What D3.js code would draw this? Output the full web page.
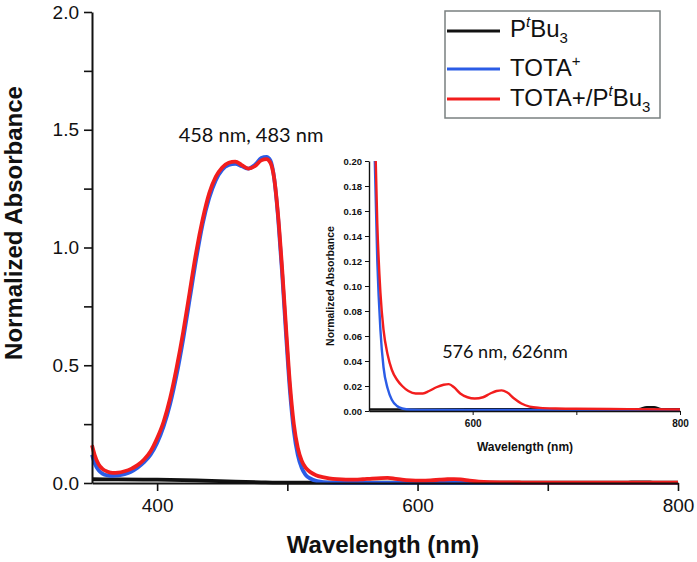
<!DOCTYPE html>
<html>
<head>
<meta charset="utf-8">
<script src="https://cdn.jsdelivr.net/npm/d3@7"></script>
<style>
html,body{margin:0;padding:0;background:#fff;}
svg{display:block;}
</style>
</head>
<body>
<svg id="chart" width="697" height="562"></svg>
<script>
// ---------------- DATA ----------------
const wlRed = [350,352,355,358,362,366,370,375,380,385,390,395,400,405,410,415,420,425,430,435,440,445,450,455,460,465,470,475,480,484,487,490,493,496,499,502,505,508,511,514,518,522,527,532,538,545,552,558,565,572,577,582,588,595,602,610,617,623,628,633,640,647,655,665,680,700,750,800];
const absRed = [0.16,0.12,0.08,0.06,0.048,0.043,0.044,0.05,0.06,0.076,0.10,0.135,0.19,0.26,0.36,0.49,0.64,0.81,0.98,1.12,1.23,1.30,1.34,1.36,1.365,1.35,1.335,1.345,1.37,1.375,1.36,1.29,1.13,0.91,0.66,0.42,0.25,0.15,0.095,0.065,0.045,0.033,0.025,0.020,0.016,0.014,0.014,0.016,0.019,0.021,0.0215,0.019,0.014,0.011,0.010,0.011,0.014,0.016,0.0165,0.015,0.010,0.006,0.0035,0.0025,0.002,0.0018,0.0015,0.0012];

const wlBlue = [350,352,355,358,362,366,370,375,380,385,390,395,400,405,410,415,420,425,430,435,440,445,450,455,460,465,470,475,480,484,487,490,493,496,499,502,505,508,511,514,518,522,527,532,540,560,600,700,800];
const absBlue = [0.12,0.085,0.055,0.04,0.032,0.03,0.032,0.038,0.048,0.065,0.088,0.12,0.17,0.24,0.335,0.46,0.61,0.78,0.95,1.10,1.21,1.285,1.33,1.35,1.355,1.345,1.335,1.35,1.38,1.385,1.37,1.29,1.12,0.89,0.63,0.39,0.22,0.12,0.065,0.035,0.018,0.009,0.004,0.002,0.001,0.0008,0.0008,0.0008,0.0008];

const wlBlack = [350,370,400,430,460,480,500,540,600,700,760,768,775,782,800];
const absBlack = [0.016,0.015,0.014,0.011,0.006,0.003,0.0012,0.0012,0.0014,0.0014,0.0015,0.003,0.003,0.0015,0.0014];

const xTicksMain = [400,500,600,700,800];
const xLabelsMain = [400,600,800];
const yTicksMain = [0,0.25,0.5,0.75,1.0,1.25,1.5,1.75,2.0];
const yLabelsMain = [0,0.5,1.0,1.5,2.0];
const xTicksInset = [600,700,800];
const xLabelsInset = [600,800];
const yTicksInset = [0,0.02,0.04,0.06,0.08,0.10,0.12,0.14,0.16,0.18,0.20];

const seriesNames = ["PtBu3","TOTA+","TOTA+/PtBu3"];
const annotationMain = "458 nm, 483 nm";
const annotationInset = "576 nm, 626nm";

// ---------------- DRAW ----------------
const svg = d3.select("#chart");
const colors = {black:"#111111", blue:"#2b5ce6", red:"#f21d1d"};
const series = [
  {wl:wlBlack, v:absBlack, c:colors.black},
  {wl:wlBlue, v:absBlue, c:colors.blue},
  {wl:wlRed, v:absRed, c:colors.red}
];

const x = d3.scaleLinear().domain([350,800]).range([92,678]);
const y = d3.scaleLinear().domain([0,2]).range([483,12]);

const main = svg.append("g");
const mainLine = d3.line().x(d=>x(d[0])).y(d=>y(d[1])).curve(d3.curveMonotoneX);
series.forEach(s=>{
  main.append("path")
    .datum(d3.zip(s.wl,s.v))
    .attr("d",mainLine)
    .attr("fill","none").attr("stroke",s.c)
    .attr("stroke-width",3.8).attr("stroke-linejoin","round");
});

// axes main
const xAxis = d3.axisBottom(x).tickValues(xTicksMain).tickSize(8).tickSizeOuter(0)
  .tickFormat(d=>xLabelsMain.includes(d)?d:"");
const gx = svg.append("g").attr("transform","translate(0,483)").call(xAxis);
gx.selectAll("text").attr("font-family","Liberation Sans, Arial, sans-serif").attr("font-size",19).attr("fill","#111").attr("dy","0.95em");
gx.selectAll("line").attr("stroke","#111").attr("stroke-width",1.6);
gx.select(".domain").attr("stroke","#111").attr("stroke-width",2);

const yAxis = d3.axisLeft(y).tickValues(yTicksMain).tickSize(8).tickSizeOuter(0)
  .tickFormat(d=>yLabelsMain.some(v=>Math.abs(v-d)<1e-9)?d3.format(".1f")(d):"");
const gy = svg.append("g").attr("transform","translate(92,0)").call(yAxis);
gy.selectAll("text").attr("font-family","Liberation Sans, Arial, sans-serif").attr("font-size",19).attr("fill","#111").attr("x",-13);
gy.selectAll("line").attr("stroke","#111").attr("stroke-width",1.6);
gy.select(".domain").attr("stroke","#111").attr("stroke-width",2);

svg.append("text").attr("transform","translate(22,223) rotate(-90)")
  .attr("text-anchor","middle").attr("font-family","Liberation Sans, Arial, sans-serif")
  .attr("font-weight","bold").attr("font-size",24).attr("fill","#111")
  .text("Normalized Absorbance");
svg.append("text").attr("x",383).attr("y",553)
  .attr("text-anchor","middle").attr("font-family","Liberation Sans, Arial, sans-serif")
  .attr("font-weight","bold").attr("font-size",24).attr("fill","#111")
  .text("Wavelength (nm)");

svg.append("text").attr("x",251).attr("y",142).attr("text-anchor","middle")
  .attr("font-family","Lato, sans-serif").attr("font-size",20).attr("fill","#111")
  .text(annotationMain);

// ---------------- INSET ----------------
const xi = d3.scaleLinear().domain([500,800]).range([369,680]);
const yi = d3.scaleLinear().domain([0,0.2]).range([411,161]);
svg.append("clipPath").attr("id","insetClip").append("rect")
  .attr("x",369).attr("y",161).attr("width",311).attr("height",250);
const inset = svg.append("g").attr("clip-path","url(#insetClip)");
const insetLine = d3.line().x(d=>xi(d[0])).y(d=>yi(d[1])).curve(d3.curveMonotoneX);
series.forEach(s=>{
  inset.append("path")
    .datum(d3.zip(s.wl,s.v))
    .attr("d",insetLine)
    .attr("fill","none").attr("stroke",s.c)
    .attr("stroke-width",2.4).attr("stroke-linejoin","round");
});

const xiAxis = d3.axisBottom(xi).tickValues(xTicksInset).tickSize(4).tickSizeOuter(0)
  .tickFormat(d=>xLabelsInset.includes(d)?d:"");
const gxi = svg.append("g").attr("transform","translate(0,411)").call(xiAxis);
gxi.selectAll("text").attr("font-family","Liberation Sans, Arial, sans-serif").attr("font-weight","bold").attr("font-size",10).attr("fill","#111").attr("dy","0.9em");
gxi.selectAll("line").attr("stroke","#111").attr("stroke-width",1);
gxi.select(".domain").attr("stroke","#111").attr("stroke-width",1.4);

const yiAxis = d3.axisLeft(yi).tickValues(yTicksInset).tickSize(4).tickSizeOuter(0)
  .tickFormat(d3.format(".2f"));
const gyi = svg.append("g").attr("transform","translate(369,0)").call(yiAxis);
gyi.selectAll("text").attr("font-family","Liberation Sans, Arial, sans-serif").attr("font-weight","bold").attr("font-size",9.5).attr("fill","#111").attr("x",-7);
gyi.selectAll("line").attr("stroke","#111").attr("stroke-width",1);
gyi.select(".domain").attr("stroke","#111").attr("stroke-width",1.4);

svg.append("text").attr("transform","translate(334,286) rotate(-90)")
  .attr("text-anchor","middle").attr("font-family","Liberation Sans, Arial, sans-serif")
  .attr("font-weight","bold").attr("font-size",10.5).attr("fill","#111")
  .text("Normalized Absorbance");
svg.append("text").attr("x",525).attr("y",451)
  .attr("text-anchor","middle").attr("font-family","Liberation Sans, Arial, sans-serif")
  .attr("font-weight","bold").attr("font-size",12).attr("fill","#111")
  .text("Wavelength (nm)");
svg.append("text").attr("x",505).attr("y",358).attr("text-anchor","middle")
  .attr("font-family","Lato, sans-serif").attr("font-size",18).attr("fill","#111")
  .text(annotationInset);

// ---------------- LEGEND ----------------
const leg = svg.append("g");
leg.append("rect").attr("x",445).attr("y",11).attr("width",215).attr("height",107)
  .attr("fill","#fff").attr("stroke","#7a8080").attr("stroke-width",1.5);
const legRows = [
  {c:colors.black, ly:31, ty:37},
  {c:colors.blue, ly:69, ty:76},
  {c:colors.red, ly:99, ty:106}
];
legRows.forEach((r,i)=>{
  leg.append("line").attr("x1",447).attr("x2",500).attr("y1",r.ly).attr("y2",r.ly)
    .attr("stroke",r.c).attr("stroke-width",3.2);
  const t = leg.append("text").attr("x",510).attr("y",r.ty)
    .attr("font-family","Liberation Sans, Arial, sans-serif").attr("font-size",24).attr("fill","#111");
  const name = seriesNames[i];
  if (name==="PtBu3"){
    t.append("tspan").text("P");
    t.append("tspan").attr("font-style","italic").attr("font-size",15).attr("dy",-10).text("t");
    t.append("tspan").attr("dy",10).text("Bu");
    t.append("tspan").attr("font-size",15).attr("dy",6).text("3");
  } else if (name==="TOTA+"){
    t.append("tspan").text("TOTA");
    t.append("tspan").attr("font-size",15).attr("dy",-10).text("+");
  } else {
    t.append("tspan").text("TOTA+/P");
    t.append("tspan").attr("font-style","italic").attr("font-size",15).attr("dy",-10).text("t");
    t.append("tspan").attr("dy",10).text("Bu");
    t.append("tspan").attr("font-size",15).attr("dy",6).text("3");
  }
});
</script>
</body>
</html>
